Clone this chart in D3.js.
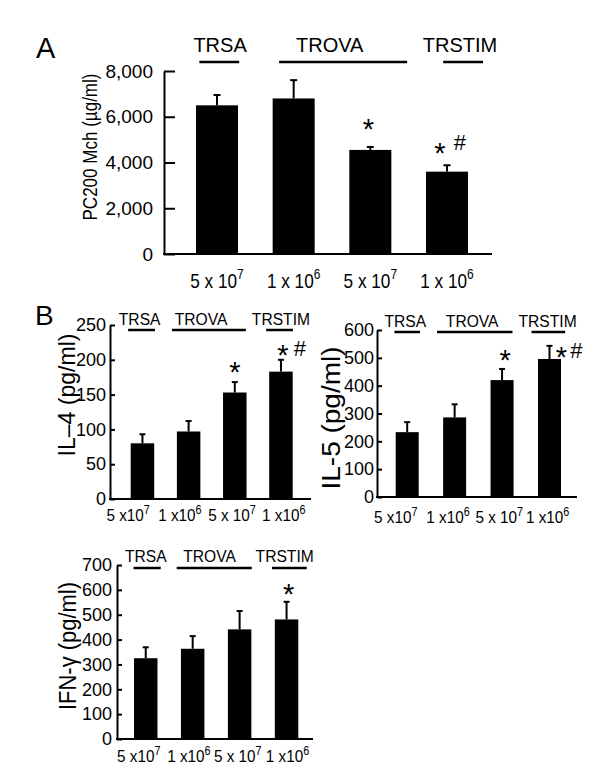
<!DOCTYPE html>
<html><head><meta charset="utf-8">
<script src="https://cdn.jsdelivr.net/npm/d3@7"></script>
<style>
body{margin:0;background:#fff}
svg{display:block}
text{font-family:"Liberation Sans",Arial,Helvetica,sans-serif;fill:#000}
</style>
</head><body>
<svg id="chart" width="600" height="777"></svg>
<script>
// ---------- data ----------
const groupNames = ["TRSA", "TROVA", "TRSTIM"];
const doseBaseA = ["5 x 10", "1 x 10", "5 x 10", "1 x 10"];
const doseBaseB = ["5 x10", "1 x10", "5 x 10", "1 x10"];
const doseExp = ["7", "6", "7", "6"];

const pc200Mean = [6500, 6800, 4550, 3600];
const pc200Sem = [450, 800, 130, 280];
const pc200Ticks = [0, 2000, 4000, 6000, 8000];
const pc200Sig = ["", "", "*", "* #"];

const il4Mean = [80, 97, 153, 183];
const il4Sem = [13, 15, 15, 17];
const il4Ticks = [0, 50, 100, 150, 200, 250];
const il4Sig = ["", "", "*", "* #"];

const il5Mean = [233, 286, 420, 496];
const il5Sem = [36, 47, 40, 47];
const il5Ticks = [0, 100, 200, 300, 400, 500, 600];
const il5Sig = ["", "", "*", "* #"];

const ifnMean = [325, 363, 441, 481];
const ifnSem = [44, 51, 74, 71];
const ifnTicks = [0, 100, 200, 300, 400, 500, 600, 700];
const ifnSig = ["", "", "", "*"];

// ---------- drawing ----------
const svg = d3.select("#chart");

function panel(c) {
  const g = svg.append("g");
  const n = c.mean.length;
  const idx = d3.range(n);
  const x = d3.scaleBand().domain(idx).range([c.barLeft, c.barRight])
    .paddingInner(c.pad).paddingOuter(0);
  const bw = x.bandwidth();
  const u = d3.scaleLinear().domain([0, n - 1])
    .range([x(0) + bw / 2, x(n - 1) + bw / 2]);
  const y = d3.scaleLinear().domain([0, c.ymax]).range([c.yBottom, c.yTop]);

  // bars
  g.selectAll("rect.bar").data(idx).join("rect")
    .attr("x", i => x(i)).attr("y", i => y(c.mean[i]))
    .attr("width", bw).attr("height", i => y(0) - y(c.mean[i]))
    .attr("fill", "#000");

  // error bars (upper only)
  g.selectAll("line.err").data(idx).join("line")
    .attr("x1", i => x(i) + bw / 2).attr("x2", i => x(i) + bw / 2)
    .attr("y1", i => y(c.mean[i])).attr("y2", i => y(c.mean[i] + c.sem[i]))
    .attr("stroke", "#000").attr("stroke-width", 2);
  g.selectAll("line.cap").data(idx).join("line")
    .attr("x1", i => x(i) + bw / 2 - c.cap).attr("x2", i => x(i) + bw / 2 + c.cap)
    .attr("y1", i => y(c.mean[i] + c.sem[i])).attr("y2", i => y(c.mean[i] + c.sem[i]))
    .attr("stroke", "#000").attr("stroke-width", 2);

  // y axis
  const ax = g.append("g").attr("transform", `translate(${c.axisX},0)`)
    .call(d3.axisLeft(y).tickValues(c.ticks).tickSize(-c.tickLen).tickSizeOuter(0)
      .tickPadding(c.tickPad).tickFormat(c.fmt));
  ax.select(".domain").attr("stroke", "#000").attr("stroke-width", c.axisW);
  ax.selectAll(".tick line").attr("stroke", "#000").attr("stroke-width", c.axisW);
  ax.selectAll(".tick text").attr("font-size", c.tickFs)
    .attr("font-family", '"Liberation Sans",Arial,sans-serif').attr("fill", "#000");
  ax.attr("font-size", null).attr("font-family", null);

  // x axis line
  g.append("line").attr("x1", c.axisX - c.axisW / 2).attr("x2", c.xEnd)
    .attr("y1", y(0)).attr("y2", y(0))
    .attr("stroke", "#000").attr("stroke-width", c.axisW);

  // x labels with superscript
  const xl = g.selectAll("text.xl").data(idx).join("text")
    .attr("transform", i => `translate(${u(c.labPos[i])},${c.labY}) scale(${c.labSx},1)`)
    .attr("text-anchor", "middle").attr("font-size", c.labFs);
  xl.append("tspan").text(i => c.base[i]);
  xl.append("tspan").attr("font-size", c.supFs).attr("dy", -c.supRise).text(i => doseExp[i]);

  // group labels and lines
  g.selectAll("text.grp").data(groupNames).join("text")
    .attr("transform", (d, k) => `translate(${u(c.grpText[k])},${c.grpY}) scale(${c.grpSx},1)`)
    .attr("text-anchor", "middle").attr("font-size", c.grpFs).text(d => d);
  g.selectAll("line.grp").data(groupNames).join("line")
    .attr("x1", (d, k) => u(c.grpLine[k][0])).attr("x2", (d, k) => u(c.grpLine[k][1]))
    .attr("y1", c.grpLineY).attr("y2", c.grpLineY)
    .attr("stroke", "#000").attr("stroke-width", c.grpLineW);

  // significance markers
  idx.forEach(i => {
    const s = c.sig[i];
    if (!s) return;
    const toks = s.split(" ");
    const offs = c.sigLayout[s];
    const top = y(c.mean[i] + c.sem[i]);
    toks.forEach((t, k) => {
      const fs = t === "*" ? c.starFs : c.hashFs;
      const kc = t === "*" ? 0.58 : 0.36;
      g.append("text")
        .attr("x", x(i) + bw / 2 + offs[k][0])
        .attr("y", top + offs[k][1] + kc * fs)
        .attr("text-anchor", "middle").attr("font-size", fs).text(t);
    });
  });

  // y title
  g.append("text").attr("transform", `translate(${c.titleX},${c.titleY}) rotate(-90)`)
    .attr("text-anchor", "middle").attr("font-size", c.titleFs)
    .attr("textLength", c.titleLen).attr("lengthAdjust", "spacingAndGlyphs")
    .text(c.title);

  // panel letter
  if (c.letter) {
    g.append("text").attr("x", c.letterX).attr("y", c.letterY)
      .attr("font-size", c.letterFs).text(c.letter);
  }
}

panel({
  mean: pc200Mean, sem: pc200Sem, ticks: pc200Ticks, sig: pc200Sig, base: doseBaseA,
  ymax: 8000, yBottom: 254, yTop: 71, axisX: 164, xEnd: 492,
  barLeft: 196, barRight: 468, pad: 0.452, cap: 3.5,
  tickLen: 11, tickPad: 11, tickFs: 19, axisW: 2, fmt: d3.format(","),
  labY: 288, labPos: [0, 1, 2, 3], labSx: 0.86, labFs: 20, supFs: 14, supRise: 9,
  grpY: 52, grpFs: 20, grpSx: 1, grpLineY: 62, grpLineW: 2.5,
  grpText: [0.04, 1.47, 3.17], grpLine: [[-0.23, 0.29], [0.81, 2.48], [2.95, 3.47]],
  starFs: 29, hashFs: 22,
  sigLayout: {"*": [[-2, -25]], "* #": [[-7, -19], [13, -22.7]]},
  title: "PC200 Mch (µg/ml)", titleFs: 20, titleLen: 147, titleX: 97, titleY: 147,
  letter: "A", letterX: 36, letterY: 58, letterFs: 29
});

panel({
  mean: il4Mean, sem: il4Sem, ticks: il4Ticks, sig: il4Sig, base: doseBaseB,
  ymax: 250, yBottom: 499, yTop: 325, axisX: 110, xEnd: 311,
  barLeft: 130.7, barRight: 292.7, pad: 0.491, cap: 3,
  tickLen: 5, tickPad: 4, tickFs: 18, axisW: 2, fmt: d3.format("d"),
  labY: 521, labPos: [-0.31, 0.81, 1.94, 3.06], labSx: 0.9, labFs: 17, supFs: 12, supRise: 7,
  grpY: 325, grpFs: 17, grpSx: 0.92, grpLineY: 330, grpLineW: 2.5,
  grpText: [-0.06, 1.27, 3.0], grpLine: [[-0.31, 0.27], [0.64, 2.24], [2.68, 3.26]],
  starFs: 29, hashFs: 22,
  sigLayout: {"*": [[0, -17]], "* #": [[2, -12], [19, -12]]},
  title: "IL\u20134 (pg/ml)", titleFs: 24, titleLen: 123, titleX: 75, titleY: 395,
  letter: "B", letterX: 35, letterY: 325, letterFs: 28
});

panel({
  mean: il5Mean, sem: il5Sem, ticks: il5Ticks, sig: il5Sig, base: doseBaseB,
  ymax: 600, yBottom: 497, yTop: 330, axisX: 377, xEnd: 577,
  barLeft: 395.7, barRight: 561, pad: 0.515, cap: 3,
  tickLen: 5, tickPad: 3, tickFs: 18, axisW: 2, fmt: d3.format("d"),
  labY: 523, labPos: [-0.24, 0.86, 1.94, 2.96], labSx: 0.9, labFs: 17, supFs: 12, supRise: 7,
  grpY: 327, grpFs: 17, grpSx: 0.92, grpLineY: 332, grpLineW: 2.5,
  grpText: [-0.04, 1.37, 2.96], grpLine: [[-0.27, 0.27], [0.63, 2.22], [2.62, 3.33]],
  starFs: 29, hashFs: 22,
  sigLayout: {"*": [[3, -16]], "* #": [[12, 4], [27, 4]]},
  title: "IL-5 (pg/ml)", titleFs: 25, titleLen: 143, titleX: 340, titleY: 418
});

panel({
  mean: ifnMean, sem: ifnSem, ticks: ifnTicks, sig: ifnSig, base: doseBaseB,
  ymax: 700, yBottom: 739, yTop: 565, axisX: 117, xEnd: 313,
  barLeft: 134, barRight: 298.3, pad: 0.5, cap: 3,
  tickLen: 5, tickPad: 5, tickFs: 18, axisW: 2, fmt: d3.format("d"),
  labY: 762, labPos: [-0.15, 0.92, 1.96, 3.02], labSx: 0.9, labFs: 17, supFs: 12, supRise: 7,
  grpY: 562, grpFs: 17, grpSx: 0.92, grpLineY: 568, grpLineW: 2.5,
  grpText: [0, 1.36, 2.96], grpLine: [[-0.26, 0.32], [0.66, 2.26], [2.69, 3.43]],
  starFs: 29, hashFs: 22,
  sigLayout: {"*": [[2, -15]]},
  title: "IFN-\u03b3 (pg/ml)", titleFs: 23, titleLen: 128, titleX: 76, titleY: 646
});
</script>
</body></html>
